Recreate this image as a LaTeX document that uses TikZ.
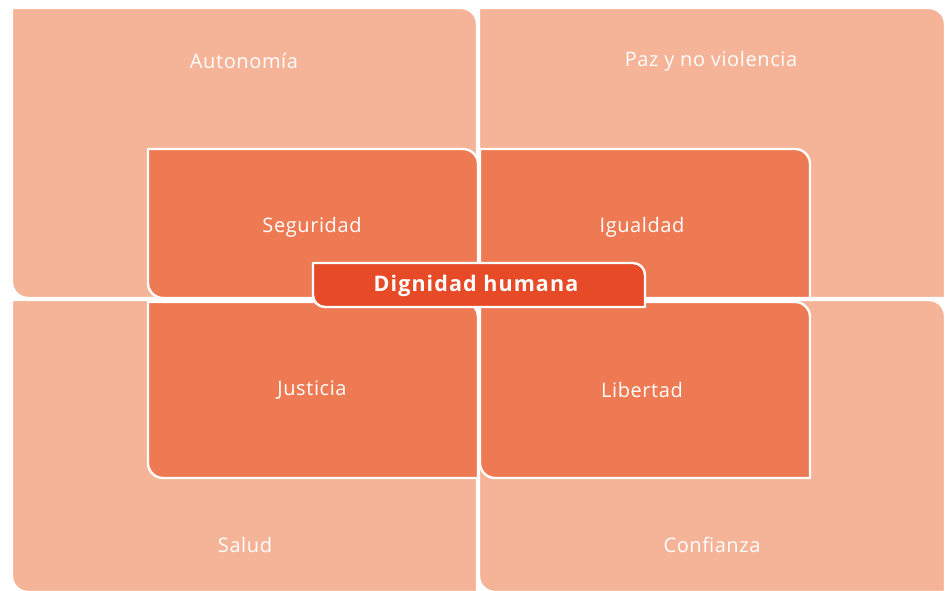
\documentclass[tikz,border=0pt]{standalone}
\usepackage{fontspec}
\setmainfont{Open Sans}
\definecolor{outerc}{HTML}{F5B397}
\definecolor{innerc}{HTML}{EE7A53}
\definecolor{labelc}{HTML}{E64A26}
% rounded top-right and bottom-left corners; args: x1, ytop(px), x2, ybottom(px), r, color
\newcommand\rqbox[6]{%
  \pgfmathsetmacro\qa{591-#2}\pgfmathsetmacro\qb{591-#4}%
  \path[fill=#6,draw=white,line width=2.4pt,line join=round]
    (#1,\qa) -- ({#3-#5},\qa) arc[start angle=90,end angle=0,radius=#5]
    -- (#3,\qb) -- ({#1+#5},\qb) arc[start angle=270,end angle=180,radius=#5] -- cycle;}
\tikzset{lbl/.style={text=white,font=\fontsize{20}{24}\selectfont\addfontfeatures{LetterSpace=3}},
  mainlbl/.style={text=white,font=\fontsize{21.5}{25}\bfseries\selectfont\addfontfeatures{LetterSpace=5}}}
\begin{document}
\begin{tikzpicture}[x=1pt,y=1pt]
\useasboundingbox[fill=white] (0,0) rectangle (946,591);
% outer quadrants
\rqbox{12}{8}{477}{298}{16}{outerc}
\rqbox{479}{8}{945}{298}{16}{outerc}
\rqbox{12}{300}{477}{592}{16}{outerc}
\rqbox{479}{300}{945}{592}{16}{outerc}
% inner quadrants
\rqbox{148}{149}{478}{298}{15}{innerc}
\rqbox{480}{149}{810}{298}{15}{innerc}
\rqbox{148}{302}{478}{478}{15}{innerc}
\rqbox{480}{302}{810}{478}{15}{innerc}
% centre label
\rqbox{313}{263}{645}{307}{12}{labelc}
\node[lbl] (autonomia) at (244,{591-61}) {Autonomía};
\node[lbl] (paz) at (711,{591-61}) {Paz y no violencia};
\node[lbl] (seguridad) at (312,{591-227}) {Seguridad};
\node[lbl] (igualdad) at (642,{591-227}) {Igualdad};
\node[lbl] (justicia) at (312,{591-390}) {Justicia};
\node[lbl] (libertad) at (642,{591-390}) {Libertad};
\node[lbl] (salud) at (245,{591-545}) {Salud};
\node[lbl] (confianza) at (712,{591-545}) {Confianza};
\node[mainlbl] (dignidad) at (476,{591-286}) {Dignidad humana};
\end{tikzpicture}
\end{document}
